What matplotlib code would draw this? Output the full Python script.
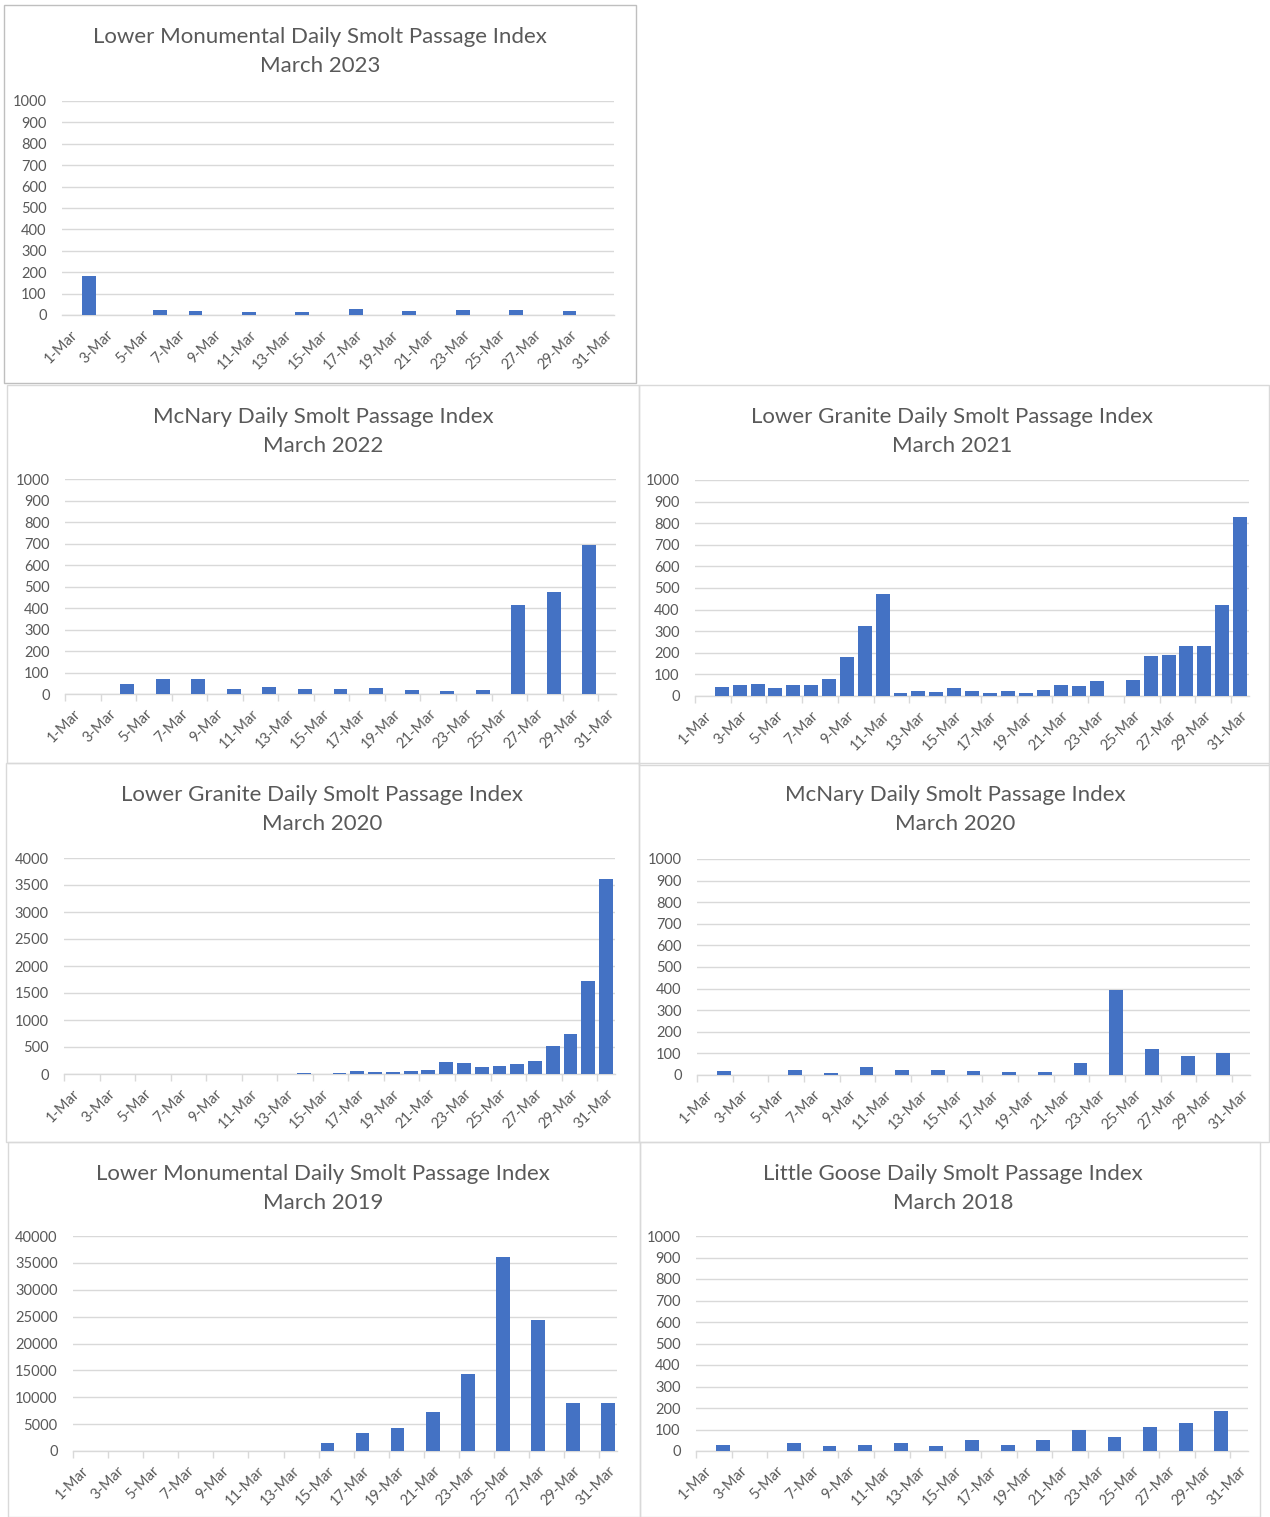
import numpy as np
import matplotlib

matplotlib.use("Agg")
import matplotlib.pyplot as plt
from matplotlib.patches import Rectangle
from matplotlib.ticker import FixedLocator, MultipleLocator

plt.rcParams["font.family"] = ["Lato", "DejaVu Sans"]

# day of month for every bar slot
days = np.arange(1, 32)
day_labels = [f"{d}-Mar" for d in days[::2]]

# daily passage index values (0 = no bar)
lmn_2023 = [0, 181, 0, 0, 0, 22, 0, 17, 0, 0, 12, 0, 0, 12, 0, 0, 29, 0, 0, 17,
            0, 0, 22, 0, 0, 22, 0, 0, 17, 0, 0]
mcn_2022 = [0, 0, 0, 47, 0, 68, 0, 68, 0, 22, 0, 34, 0, 22, 0, 22, 0, 29, 0, 19,
            0, 14, 0, 17, 0, 412, 0, 476, 0, 691, 0]
lgr_2021 = [0, 40, 53, 56, 37, 50, 50, 79, 181, 326, 470, 14, 22, 17, 37, 22, 14,
            22, 14, 29, 50, 45, 68, 0, 76, 184, 189, 233, 233, 423, 828]
lgr_2020 = [0, 0, 0, 0, 0, 0, 0, 0, 0, 0, 0, 0, 0, 25, 0, 25, 56, 37, 37, 50,
            74, 217, 198, 124, 155, 186, 242, 527, 732, 1718, 3609]
mcn_2020 = [0, 17, 0, 0, 0, 25, 0, 9, 0, 37, 0, 22, 0, 22, 0, 17, 0, 12, 0, 12,
            0, 57, 0, 392, 0, 119, 0, 88, 0, 104, 0]
lmn_2019 = [0, 0, 0, 0, 0, 0, 0, 0, 0, 0, 0, 0, 0, 0, 1500, 0, 3400, 0, 4350, 0,
            7250, 0, 14300, 0, 36100, 0, 24300, 0, 9000, 0, 8870]
lgs_2018 = [0, 26, 0, 0, 0, 37, 0, 22, 0, 29, 0, 37, 0, 22, 0, 50, 0, 26, 0, 53,
            0, 96, 0, 65, 0, 113, 0, 132, 0, 186, 0]

titles = [
    ("Lower Monumental Daily Smolt Passage Index", "March 2023"),
    ("McNary Daily Smolt Passage Index", "March 2022"),
    ("Lower Granite Daily Smolt Passage Index", "March 2021"),
    ("Lower Granite Daily Smolt Passage Index", "March 2020"),
    ("McNary Daily Smolt Passage Index", "March 2020"),
    ("Lower Monumental Daily Smolt Passage Index", "March 2019"),
    ("Little Goose Daily Smolt Passage Index", "March 2018"),
]
series = [lmn_2023, mcn_2022, lgr_2021, lgr_2020, mcn_2020, lmn_2019, lgs_2018]
y_max = [1000, 1000, 1000, 4000, 1000, 40000, 1000]
y_step = [100, 100, 100, 500, 100, 5000, 100]

W, H = 1270, 1517
BAR = "#4472C4"
GRID = "#D9D9D9"
TEXT = "#595959"

# layout in pixels: border box, plot area (left, right, top, zero line), title centre x
panels = [
    dict(box=(4, 5, 636, 383), plot=(62, 614, 101, 315), tx=320, ticks=False, edge="#BFBFBF"),
    dict(box=(7, 385, 639, 763), plot=(65, 616, 479, 694), tx=323, ticks=True, edge=GRID),
    dict(box=(639, 385, 1269, 765), plot=(695, 1249, 480, 696), tx=952, ticks=True, edge=GRID),
    dict(box=(6, 763, 639, 1142), plot=(64, 615, 858, 1074), tx=322, ticks=True, edge=GRID),
    dict(box=(639, 763, 1269, 1142), plot=(697, 1250, 859, 1075), tx=955, ticks=True, edge=GRID),
    dict(box=(8, 1142, 640, 1517), plot=(73, 617, 1236, 1451), tx=323, ticks=True, edge=GRID),
    dict(box=(640, 1142, 1260, 1517), plot=(696, 1248, 1236, 1451), tx=953, ticks=True, edge=GRID),
]

fig = plt.figure(figsize=(W / 100, H / 100), dpi=100)
fig.patch.set_facecolor("white")

for spec, values, (line1, line2), top, step in zip(panels, series, titles, y_max, y_step):
    x0, y0, x1, y1 = spec["box"]
    fig.add_artist(Rectangle((x0 / W, 1 - y1 / H), (x1 - x0) / W, (y1 - y0) / H,
                             transform=fig.transFigure, fill=False,
                             edgecolor=spec["edge"], linewidth=1.0))
    base_y = y0 + 38
    fig.text(spec["tx"] / W, 1 - base_y / H, line1, ha="center", va="baseline",
             fontsize=16, color=TEXT)
    fig.text(spec["tx"] / W, 1 - (base_y + 29) / H, line2, ha="center", va="baseline",
             fontsize=16, color=TEXT)

    left, right, ptop, pzero = spec["plot"]
    ax = fig.add_axes([left / W, 1 - pzero / H, (right - left) / W, (pzero - ptop) / H])
    ax.bar(days, values, width=0.78, color=BAR, zorder=3)
    ax.set_xlim(0.5, 31.5)
    ax.set_ylim(0, top)
    ax.yaxis.set_major_locator(MultipleLocator(step))
    ax.grid(axis="y", color=GRID, linewidth=1.0, zorder=0)
    ax.set_axisbelow(True)
    for side in ("top", "right", "left"):
        ax.spines[side].set_visible(False)
    ax.spines["bottom"].set_color(GRID)
    ax.spines["bottom"].set_linewidth(1.0)

    ax.xaxis.set_major_locator(FixedLocator(days[::2]))
    ax.set_xticklabels(day_labels, rotation=45, ha="right", va="top",
                       rotation_mode="anchor", fontsize=10.5, color=TEXT)
    ax.tick_params(axis="x", which="major", length=0, pad=9)
    if spec["ticks"]:
        ax.xaxis.set_minor_locator(FixedLocator(days[::2] - 0.5))
        ax.tick_params(axis="x", which="minor", length=5, color=GRID, width=1.0)
    ax.tick_params(axis="y", length=0, pad=11, labelsize=10.5, labelcolor=TEXT)

fig.savefig("out.png", dpi=100, facecolor="white")
